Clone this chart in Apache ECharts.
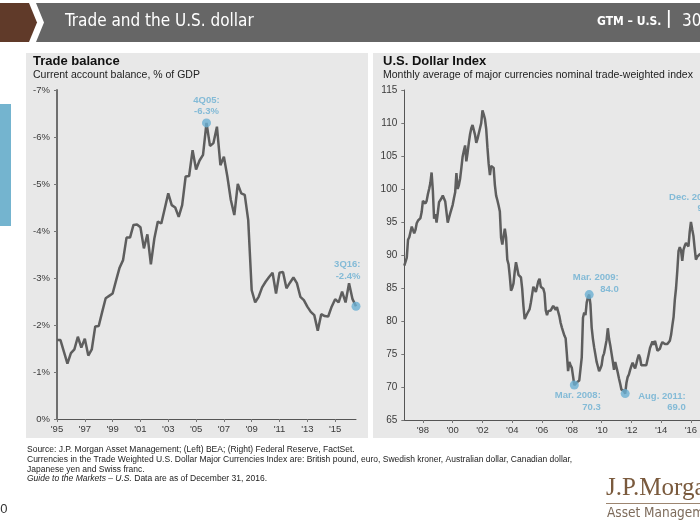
<!DOCTYPE html>
<html>
<head>
<meta charset="utf-8">
<script src="https://cdn.jsdelivr.net/npm/echarts@6/dist/echarts.min.js"></script>
<style>
html,body{margin:0;padding:0;width:700px;height:525px;overflow:hidden;background:#fff;}
#c{width:720px;height:525px;}
</style>
</head>
<body>
<div id="c"></div>
<script>
// ---------- Data ----------
// Left: current account balance, % of GDP, quarterly 1Q95 .. 3Q16
const tradeStartYear = 1995;
const tradeBalance = [
  -1.68, -1.68, -1.43, -1.18,
  -1.40, -1.48, -1.75, -1.52,
  -1.71, -1.35, -1.48, -1.97,
  -1.98, -2.28, -2.57, -2.62,
  -2.67, -2.95, -3.22, -3.38,
  -3.86, -3.86, -4.13, -4.14,
  -4.08, -3.63, -3.93, -3.29,
  -3.84, -4.20, -4.16, -4.48,
  -4.80, -4.55, -4.50, -4.30,
  -4.55, -5.16, -5.17, -5.72,
  -5.31, -5.50, -5.62, -6.30,
  -5.81, -5.87, -6.22, -5.40,
  -5.58, -5.16, -4.66, -4.34,
  -5.00, -4.80, -4.77, -4.23,
  -2.74, -2.48, -2.60, -2.80,
  -2.92, -3.02, -3.11, -2.67,
  -3.11, -3.13, -2.78, -2.90,
  -3.01, -2.89, -2.60, -2.53,
  -2.39, -2.28, -2.21, -1.88,
  -2.23, -2.19, -2.18, -2.39,
  -2.55, -2.48, -2.71, -2.48,
  -2.89, -2.55, -2.40
];
const tradeHighlights = [
  { cat: '2005Q4', text: '4Q05:\n-6.3%' },
  { cat: '2016Q3', text: '3Q16:\n-2.4%' }
];
const tradeYTicks = ['-7%', '-6%', '-5%', '-4%', '-3%', '-2%', '-1%', '0%'];
const tradeXTicks = ["'95", "'97", "'99", "'01", "'03", "'05", "'07", "'09", "'11", "'13", "'15"];

// Right: U.S. dollar index, monthly Oct 1996 .. Dec 2016
const dollarStart = { year: 1996, month: 10 };
const dollarIndex = [
  88.4, 88.2, 89.6,                                                       // 1996 Oct-Dec
  92.3, 92.7, 93.0, 94.3, 94.0, 93.3, 93.8, 94.8, 95.2, 94.9, 95.6, 96.5, // 1997
  98.2, 97.9, 97.8, 98.2, 99.2, 100.0, 100.9, 102.5, 99.8, 95.5, 96.2, 94.9, // 1998
  96.4, 98.0, 98.2, 98.6, 99.0, 99.3, 98.1, 96.5, 94.9, 95.6, 96.3, 96.3, // 1999
  97.6, 98.6, 99.5, 102.4, 100.0, 100.6, 101.6, 103.2, 104.9, 105.8, 106.6, 104.2, // 2000
  105.5, 107.0, 108.3, 109.2, 109.7, 109.6, 108.2, 107.0, 107.6, 108.4, 109.2, 110.0, // 2001
  111.9, 111.3, 110.6, 109.1, 106.3, 103.8, 102.1, 103.5, 103.8, 103.2, 100.6, 99.0, // 2002
  98.3, 97.5, 96.6, 92.6, 91.6, 92.8, 94.0, 92.7, 89.3, 88.6, 86.8, 84.6, // 2003
  85.0, 85.7, 87.5, 88.9, 88.0, 87.0, 86.8, 86.6, 84.9, 82.3, 80.3, 80.7, // 2004
  81.1, 80.9, 81.8, 82.8, 84.0, 85.2, 85.5, 84.4, 84.2, 86.0, 86.4, 85.2, // 2005
  84.9, 84.9, 84.2, 81.6, 80.9, 81.5, 81.7, 81.6, 81.4, 82.3, 82.0, 81.7, // 2006
  82.1, 81.4, 80.7, 79.7, 79.0, 78.4, 77.8, 77.4, 75.0, 72.4, 73.8, 73.3, // 2007
  72.9, 71.6, 70.3, 70.5, 70.7, 70.9, 71.0, 71.2, 74.5, 80.5, 81.3, 80.9, // 2008
  82.8, 83.6, 84.0, 82.5, 79.0, 77.3, 76.0, 74.9, 73.8, 73.1, 72.4, 72.8, // 2009
  73.3, 74.6, 75.1, 75.2, 77.1, 78.9, 77.3, 76.3, 75.1, 73.9, 72.6, 73.8, // 2010
  73.5, 72.2, 71.3, 70.5, 69.6, 69.5, 69.4, 69.0, 70.6, 71.5, 71.9, 72.6, // 2011
  73.2, 73.7, 73.2, 72.8, 73.5, 74.3, 74.9, 74.4, 73.3, 73.0, 73.3, 73.4, // 2012
  73.3, 73.4, 75.0, 75.9, 76.4, 76.9, 76.4, 77.0, 76.3, 75.5, 75.2, 75.8, // 2013
  76.4, 76.8, 76.8, 76.5, 76.4, 76.5, 76.5, 77.0, 77.9, 79.3, 80.6, 83.2, // 2014
  85.0, 87.6, 90.6, 91.2, 90.7, 89.1, 90.8, 91.4, 91.8, 91.5, 91.3, 93.5, // 2015
  95.0, 93.9, 92.9, 91.0, 89.3, 89.7, 90.0, 90.1, 90.0, 90.3, 93.2, 95.3  // 2016
];
const dollarHighlights = [
  { cat: '2008-03', text: 'Mar. 2008:\n70.3' },
  { cat: '2009-03', text: 'Mar. 2009:\n84.0' },
  { cat: '2011-08', text: 'Aug. 2011:\n69.0' },
  { cat: '2016-12', text: 'Dec. 2016:\n95.3' }
];
const dollarXTicks = ["'98", "'00", "'02", "'04", "'06", "'08", "'10", "'12", "'14", "'16"];

// ---------- Categories ----------
const tradeCats = tradeBalance.map((_, i) => (tradeStartYear + Math.floor(i / 4)) + 'Q' + (i % 4 + 1));
const dollarCats = dollarIndex.map((_, i) => {
  const k = dollarStart.month - 1 + i;
  const y = dollarStart.year + Math.floor(k / 12);
  const m = k % 12 + 1;
  return y + '-' + (m < 10 ? '0' + m : m);
});

const tradeLabelSet = {};
tradeXTicks.forEach(t => { tradeLabelSet[(t.slice(1) >= '50' ? '19' : '20') + t.slice(1) + 'Q1'] = t; });
const dollarLabelSet = {};
dollarXTicks.forEach(t => { dollarLabelSet[(t.slice(1) >= '50' ? '19' : '20') + t.slice(1) + '-01'] = t; });

const blue = '#6aafd2';
const lineGrey = '#5e5e5e';
const axisTxt = '#3a3a3a';
const FONT = '"Liberation Sans", Arial, sans-serif';

// label placement (relative to the marker box) for the highlight points
const tradeLabelPos = {
  '2005Q4': { position: 'top', distance: 1, align: 'center', verticalAlign: 'bottom' },
  '2016Q3': { position: [9, -20], align: 'right', verticalAlign: 'bottom' }
};
const dollarLabelPos = {
  '2008-03': { position: [31, 9.5], align: 'right', verticalAlign: 'top' },
  '2009-03': { position: [34, 5], align: 'right', verticalAlign: 'bottom' },
  '2011-08': { position: [65, 1.5], align: 'right', verticalAlign: 'top' },
  '2016-12': { position: [16, -1], align: 'right', verticalAlign: 'bottom' }
};

function hlData(cats, vals, list, pos) {
  return list.map(h => {
    const i = cats.indexOf(h.cat);
    return {
      value: [h.cat, vals[i]],
      label: Object.assign({
        show: true, formatter: h.text, color: blue, fontWeight: 'bold',
        fontSize: 9.5, lineHeight: 11.5, fontFamily: FONT
      }, pos[h.cat])
    };
  });
}

const chart = echarts.init(document.getElementById('c'), null, { renderer: 'canvas' });

const header = [
  { type: 'rect', shape: { x: 0, y: 0, width: 720, height: 525 }, style: { fill: '#ffffff' }, z: -10, silent: true },
  { type: 'polygon', shape: { points: [[0, 3], [29, 3], [37, 22.5], [29, 42], [0, 42]] }, style: { fill: '#603a29' }, z: -5 },
  { type: 'polygon', shape: { points: [[36, 3], [720, 3], [720, 42], [36, 42], [44, 22.5]] }, style: { fill: '#666666' }, z: -5 },
  { type: 'text', left: 65, top: 13, style: { text: 'Trade and the U.S. dollar', fill: '#ffffff', font: '17px "DejaVu Sans Condensed", sans-serif' } },
  { type: 'text', left: 597, top: 16, style: { text: 'GTM – U.S.', fill: '#ffffff', font: 'bold 12px "DejaVu Sans Condensed", sans-serif' } },
  { type: 'text', left: 666, top: 11, style: { text: '|', fill: '#ffffff', font: 'bold 17px "DejaVu Sans Condensed", sans-serif' } },
  { type: 'text', left: 682, top: 13, style: { text: '30', fill: '#ffffff', font: '17px "DejaVu Sans Condensed", sans-serif' } },
  // side blue tab
  { type: 'rect', shape: { x: 0, y: 104, width: 11, height: 122 }, style: { fill: '#74b4cf' }, z: -5 },
  // panels
  { type: 'rect', shape: { x: 26, y: 53, width: 342, height: 385 }, style: { fill: '#e8e8e8' }, z: -5 },
  { type: 'rect', shape: { x: 373, y: 53, width: 347, height: 385 }, style: { fill: '#e8e8e8' }, z: -5 },
  { type: 'text', left: 33, top: 55, style: { text: 'Trade balance', fill: '#111', font: 'bold 13px ' + FONT } },
  { type: 'text', left: 33, top: 70, style: { text: 'Current account balance, % of GDP', fill: '#222', font: '10.5px ' + FONT } },
  { type: 'text', left: 383, top: 55, style: { text: 'U.S. Dollar Index', fill: '#111', font: 'bold 13px ' + FONT } },
  { type: 'text', left: 383, top: 70, style: { text: 'Monthly average of major currencies nominal trade-weighted index', fill: '#222', font: '10.5px ' + FONT } },
  // footer
  { type: 'text', left: 27, top: 445, style: { text: 'Source: J.P. Morgan Asset Management; (Left) BEA; (Right) Federal Reserve, FactSet.', fill: '#222', font: '8.5px ' + FONT } },
  { type: 'text', left: 27, top: 455, style: { text: 'Currencies in the Trade Weighted U.S. Dollar Major Currencies Index are: British pound, euro, Swedish kroner, Australian dollar, Canadian dollar,', fill: '#222', font: '8.5px ' + FONT } },
  { type: 'text', left: 27, top: 465, style: { text: 'Japanese yen and Swiss franc.', fill: '#222', font: '8.5px ' + FONT } },
  { type: 'text', left: 27, top: 474.5, style: {
      text: '{i|Guide to the Markets – U.S.} Data are as of December 31, 2016.',
      fill: '#222', font: '8.5px ' + FONT,
      rich: { i: { fontStyle: 'italic', fontSize: 8.5, fontFamily: FONT, fill: '#222' } } } },
  // logo
  { type: 'text', left: 606, top: 476, style: { text: 'J.P.Morgan', fill: '#7a5a3d', font: '25px "Liberation Serif", serif' } },
  { type: 'rect', shape: { x: 606, y: 503, width: 120, height: 1 }, style: { fill: '#9c8570' } },
  { type: 'text', left: 607, top: 506, style: { text: 'Asset Management', fill: '#7d6b5b', font: '13.5px "DejaVu Sans Condensed", sans-serif' } },
  { type: 'text', left: -7, top: 503, style: { text: '10', fill: '#333', font: '13px ' + FONT } }
];

const option = {
  animation: false,
  backgroundColor: 'transparent',
  graphic: header,
  grid: [
    { left: 57, top: 90, width: 299, height: 329 },
    { left: 404.3, top: 90, width: 300.3, height: 330 }
  ],
  xAxis: [
    {
      type: 'category', gridIndex: 0, data: tradeCats, boundaryGap: false,
      axisLine: { lineStyle: { color: '#555', width: 1 } },
      axisTick: { show: true, length: 3, interval: (i, v) => !!tradeLabelSet[v], lineStyle: { color: '#777' } },
      axisLabel: { interval: (i, v) => !!tradeLabelSet[v], formatter: v => tradeLabelSet[v] || '', color: axisTxt, fontSize: 9.5, fontFamily: FONT, margin: 5 },
      splitLine: { show: false }
    },
    {
      type: 'category', gridIndex: 1, data: dollarCats, boundaryGap: false,
      axisLine: { lineStyle: { color: '#555', width: 1 } },
      axisTick: { show: true, length: 3, interval: (i, v) => !!dollarLabelSet[v], lineStyle: { color: '#777' } },
      axisLabel: { interval: (i, v) => !!dollarLabelSet[v], formatter: v => dollarLabelSet[v] || '', color: axisTxt, fontSize: 9.5, fontFamily: FONT, margin: 5 },
      splitLine: { show: false }
    }
  ],
  yAxis: [
    {
      type: 'value', gridIndex: 0, min: -7, max: 0, interval: 1, inverse: true,
      axisLine: { show: true, lineStyle: { color: '#6f6f6f', width: 2 } },
      axisTick: { show: true, length: 3, lineStyle: { color: '#777' } },
      axisLabel: { formatter: v => tradeYTicks[v + 7], color: axisTxt, fontSize: 9.5, fontFamily: FONT, margin: 7 },
      splitLine: { show: false }
    },
    {
      type: 'value', gridIndex: 1, min: 65, max: 115, interval: 5,
      axisLine: { show: true, lineStyle: { color: '#555', width: 1 } },
      axisTick: { show: true, length: 3, lineStyle: { color: '#777' } },
      axisLabel: { color: axisTxt, fontSize: 10, fontFamily: FONT, margin: 7 },
      splitLine: { show: false }
    }
  ],
  series: [
    {
      type: 'line', xAxisIndex: 0, yAxisIndex: 0, data: tradeBalance, symbol: 'none',
      lineStyle: { color: lineGrey, width: 2.5 }, z: 2
    },
    {
      type: 'scatter', xAxisIndex: 0, yAxisIndex: 0, symbolSize: 9,
      itemStyle: { color: blue }, z: 5,
      data: hlData(tradeCats, tradeBalance, tradeHighlights, tradeLabelPos)
    },
    {
      type: 'line', xAxisIndex: 1, yAxisIndex: 1, data: dollarIndex, symbol: 'none',
      lineStyle: { color: lineGrey, width: 2.5 }, z: 2
    },
    {
      type: 'scatter', xAxisIndex: 1, yAxisIndex: 1, symbolSize: 9,
      itemStyle: { color: blue }, z: 5,
      data: hlData(dollarCats, dollarIndex, dollarHighlights, dollarLabelPos)
    }
  ]
};
chart.setOption(option);
</script>
</body>
</html>
